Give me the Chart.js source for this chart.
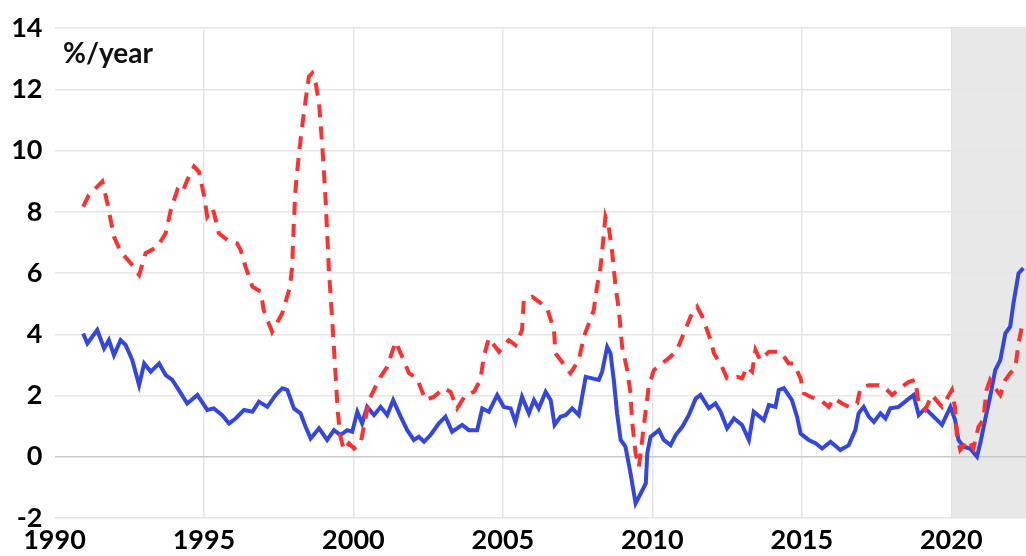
<!DOCTYPE html>
<html>
<head>
<meta charset="utf-8">
<script src="https://cdn.jsdelivr.net/npm/chart.js@4/dist/chart.umd.min.js"></script>
<style>
  html, body { margin: 0; padding: 0; background: #fff; }
  #wrap { position: relative; width: 1026px; height: 556px; }
  #unit {
    position: absolute; left: 63px; top: 36px;
    font: bold 28px Lato, "Open Sans", sans-serif; color: #111;
    line-height: 32px;
  }
</style>
</head>
<body>
<div id="wrap">
  <canvas id="chart" width="1026" height="556"></canvas>
  <div id="unit">%/year</div>
</div>
<script>
// Years (decimal) and values
const blueYears = [
  1990.96, 1991.1, 1991.43, 1991.66, 1991.82, 1991.99, 1992.21, 1992.38, 1992.6, 1992.83,
  1993.0, 1993.22, 1993.5, 1993.72, 1993.94, 1994.16, 1994.44, 1994.78, 1995.11, 1995.33,
  1995.61, 1995.84, 1996.06, 1996.34, 1996.62, 1996.84, 1997.12, 1997.4, 1997.62, 1997.79,
  1998.01, 1998.23, 1998.4, 1998.57, 1998.85, 1999.12, 1999.35, 1999.57, 1999.79, 1999.96,
  2000.13, 2000.29, 2000.46, 2000.69, 2000.91, 2001.13, 2001.33, 2001.58, 2001.8, 2002.02,
  2002.19, 2002.36, 2002.58, 2002.86, 2003.08, 2003.3, 2003.64, 2003.86, 2004.14, 2004.31,
  2004.53, 2004.81, 2005.03, 2005.26, 2005.42, 2005.64, 2005.87, 2006.04, 2006.2, 2006.43,
  2006.6, 2006.73, 2006.93, 2007.1, 2007.32, 2007.54, 2007.77, 2007.99, 2008.21, 2008.32,
  2008.49, 2008.6, 2008.71, 2008.82, 2008.94, 2009.1, 2009.27, 2009.44, 2009.61, 2009.78,
  2009.83, 2009.94, 2010.22, 2010.38, 2010.61, 2010.78, 2011.0, 2011.22, 2011.45, 2011.61,
  2011.89, 2012.11, 2012.28, 2012.5, 2012.73, 2013.0, 2013.23, 2013.39, 2013.73, 2013.9,
  2014.12, 2014.23, 2014.4, 2014.67, 2014.84, 2014.96, 2015.23, 2015.46, 2015.68, 2015.96,
  2016.29, 2016.57, 2016.79, 2016.9, 2017.07, 2017.24, 2017.41, 2017.63, 2017.8, 2017.96,
  2018.24, 2018.52, 2018.74, 2018.91, 2019.13, 2019.41, 2019.69, 2019.97, 2020.13, 2020.24,
  2020.41, 2020.63, 2020.86, 2020.97, 2021.13, 2021.3, 2021.47, 2021.64, 2021.81, 2021.97,
  2022.08, 2022.25, 2022.41
];
const blueValues = [
  4.03, 3.7, 4.14, 3.54, 3.81, 3.32, 3.81, 3.65, 3.16, 2.34,
  3.05, 2.78, 3.05, 2.67, 2.51, 2.18, 1.74, 2.02, 1.53, 1.58,
  1.36, 1.09, 1.25, 1.53, 1.47, 1.80, 1.63, 2.02, 2.24, 2.18,
  1.58, 1.42, 0.98, 0.60, 0.93, 0.55, 0.87, 0.71, 0.87, 0.82,
  1.47, 1.09, 1.63, 1.36, 1.63, 1.36, 1.85, 1.31, 0.87, 0.55,
  0.65, 0.49, 0.71, 1.09, 1.31, 0.82, 1.04, 0.87, 0.87, 1.58,
  1.47, 2.02, 1.63, 1.58, 1.14, 1.96, 1.42, 1.85, 1.58, 2.12,
  1.85, 1.04, 1.31, 1.36, 1.58, 1.36, 2.61, 2.56, 2.51, 2.78,
  3.59, 3.38, 2.51, 1.42, 0.55, 0.33, -0.54, -1.52, -1.20, -0.87,
  0.11, 0.65, 0.87, 0.55, 0.38, 0.71, 0.98, 1.36, 1.90, 2.02,
  1.58, 1.74, 1.47, 0.93, 1.25, 1.04, 0.55, 1.47, 1.20, 1.69,
  1.63, 2.18, 2.24, 1.85, 1.31, 0.76, 0.55, 0.44, 0.27, 0.49,
  0.22, 0.38, 0.87, 1.42, 1.63, 1.31, 1.14, 1.42, 1.25, 1.58,
  1.63, 1.85, 2.02, 1.36, 1.58, 1.31, 1.04, 1.63, 1.20, 0.55,
  0.33, 0.27, 0.0, 0.44, 1.20, 1.96, 2.83, 3.16, 4.03, 4.25,
  5.01, 5.99, 6.16
];

const redYears = [
  1990.96, 1991.15, 1991.6, 1991.77, 1991.99, 1992.21, 1992.55, 1992.83, 1993.05, 1993.44,
  1993.72, 1993.89, 1994.11, 1994.27, 1994.44, 1994.67, 1994.83, 1995.0, 1995.11, 1995.3,
  1995.5, 1995.78, 1996.11, 1996.23, 1996.39, 1996.62, 1996.9, 1997.0, 1997.28, 1997.62,
  1997.88, 1997.95, 1998.01, 1998.07, 1998.18, 1998.34, 1998.51, 1998.62, 1998.74, 1998.85,
  1998.96, 1999.07, 1999.18, 1999.29, 1999.4, 1999.48, 1999.57, 1999.68, 1999.85, 2000.02,
  2000.24, 2000.35, 2000.52, 2000.74, 2000.9, 2001.13, 2001.41, 2001.63, 2001.86, 2002.13,
  2002.41, 2002.69, 2003.03, 2003.25, 2003.47, 2003.75, 2004.03, 2004.25, 2004.36, 2004.53,
  2004.87, 2005.2, 2005.42, 2005.64, 2005.7, 2005.98, 2006.2, 2006.48, 2006.71, 2006.76,
  2006.93, 2007.26, 2007.54, 2007.71, 2008.04, 2008.15, 2008.27, 2008.38, 2008.43, 2008.54,
  2008.66, 2008.77, 2008.88, 2008.99, 2009.16, 2009.27, 2009.32, 2009.44, 2009.55, 2009.66,
  2009.78, 2009.88, 2010.05, 2010.33, 2010.61, 2010.83, 2011.05, 2011.28, 2011.5, 2011.67,
  2011.83, 2011.95, 2012.06, 2012.33, 2012.5, 2012.84, 2013.0, 2013.17, 2013.34, 2013.45,
  2013.61, 2013.9, 2014.29, 2014.56, 2014.73, 2014.96, 2015.07, 2015.29, 2015.63, 2015.9,
  2016.07, 2016.35, 2016.57, 2016.85, 2016.96, 2017.24, 2017.58, 2017.8, 2018.02, 2018.36,
  2018.58, 2018.8, 2018.91, 2019.13, 2019.35, 2019.69, 2020.02, 2020.13, 2020.18, 2020.3,
  2020.57, 2020.74, 2020.91, 2021.07, 2021.18, 2021.3, 2021.47, 2021.64, 2021.81, 2021.97,
  2022.14, 2022.25, 2022.41
];
const redValues = [
  8.17, 8.55, 8.99, 8.28, 7.19, 6.70, 6.32, 5.94, 6.65, 6.86,
  7.30, 8.06, 8.72, 8.61, 9.04, 9.48, 9.31, 8.55, 7.84, 8.10,
  7.30, 7.08, 6.97, 6.75, 6.21, 5.56, 5.39, 4.79, 4.08, 4.69,
  5.56, 6.21, 7.74, 8.82, 9.92, 11.22, 12.42, 12.53, 12.20, 11.55,
  10.13, 8.39, 6.10, 4.47, 2.73, 1.42, 0.65, 0.22, 0.44, 0.27,
  0.44, 0.98, 1.85, 2.29, 2.60, 2.94, 3.76, 3.27, 2.73, 2.56,
  1.85, 1.96, 2.24, 2.12, 1.58, 2.02, 2.12, 2.51, 3.27, 3.87,
  3.43, 3.81, 3.65, 4.14, 5.12, 5.23, 5.07, 4.85, 4.14, 3.38,
  3.16, 2.73, 3.16, 3.92, 4.79, 5.56, 6.21, 7.30, 7.84, 7.52,
  6.65, 5.56, 4.79, 3.59, 2.83, 2.07, 1.20, 0.11, -0.33, 0.55,
  1.53, 2.29, 2.83, 3.05, 3.27, 3.49, 4.03, 4.58, 4.90, 4.58,
  4.14, 3.81, 3.38, 2.94, 2.56, 2.61, 2.56, 2.94, 2.78, 3.49,
  3.16, 3.43, 3.43, 3.05, 3.05, 2.56, 2.07, 1.96, 1.85, 1.63,
  1.91, 1.74, 1.63, 1.74, 2.24, 2.34, 2.34, 2.24, 2.02, 2.29,
  2.45, 2.51, 1.74, 1.53, 2.02, 1.63, 2.18, 1.58, 0.76, 0.22,
  0.55, 0.27, 0.98, 1.20, 2.18, 2.51, 2.24, 2.02, 2.51, 2.73,
  2.89, 3.71, 4.47
];

const xTicks = [1990, 1995, 2000, 2005, 2010, 2015, 2020];
const yTicks = [-2, 0, 2, 4, 6, 8, 10, 12, 14];
const shadeFrom = 2020;

const toPoints = (xs, ys) => xs.map((x, i) => ({ x, y: ys[i] }));

// Grey band behind the grid for the recent period
const shadePlugin = {
  id: 'shade',
  beforeDraw(chart) {
    const { ctx, chartArea, scales } = chart;
    const left = scales.x.getPixelForValue(shadeFrom);
    ctx.save();
    ctx.fillStyle = '#e8e8e8';
    ctx.fillRect(left, chartArea.top, chartArea.right - left, chartArea.bottom - chartArea.top);
    ctx.restore();
  }
};

const tickFont = { family: 'Lato, "Open Sans", sans-serif', size: 27, weight: 'bold' };

new Chart(document.getElementById('chart'), {
  type: 'line',
  data: {
    datasets: [
      {
        label: 'red',
        data: toPoints(redYears, redValues),
        borderColor: '#ff3030',
        borderWidth: 4,
        borderDash: [13, 9],
        pointRadius: 0,
        tension: 0
      },
      {
        label: 'blue',
        data: toPoints(blueYears, blueValues),
        borderColor: '#3347e0',
        borderWidth: 4,
        pointRadius: 0,
        tension: 0
      }
    ]
  },
  options: {
    responsive: false,
    animation: false,
    devicePixelRatio: 1,
    layout: { padding: { top: 28, right: 0, left: 0, bottom: 0 } },
    plugins: { legend: { display: false }, tooltip: { enabled: false } },
    scales: {
      x: {
        type: 'linear',
        min: 1990,
        max: 2022.5,
        afterBuildTicks: s => { s.ticks = xTicks.map(v => ({ value: v })); },
        afterFit: s => { s.height = 38; },
        border: { display: false },
        grid: {
          drawTicks: false,
          lineWidth: 1.5,
          color: ctx => (ctx.tick && ctx.tick.value === 1990 ? 'rgba(0,0,0,0)' : '#e6e6e6')
        },
        ticks: {
          color: '#000', font: tickFont, padding: 6, maxRotation: 0, autoSkip: false,
          callback: v => String(v)
        }
      },
      y: {
        min: -2,
        max: 14,
        afterBuildTicks: s => { s.ticks = yTicks.map(v => ({ value: v })); },
        afterFit: s => { s.width = 54.5; },
        border: { display: false },
        grid: {
          drawTicks: false,
          lineWidth: 1.5,
          color: ctx => (ctx.tick && ctx.tick.value === 0 ? '#c8c8c8' : '#e6e6e6')
        },
        ticks: { color: '#000', font: tickFont, padding: 12, callback: v => String(v) }
      }
    }
  },
  plugins: [shadePlugin]
});
</script>
</body>
</html>
